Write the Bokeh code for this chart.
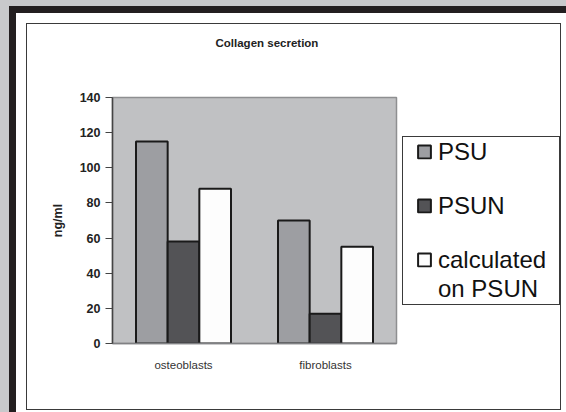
from bokeh.plotting import figure
from bokeh.models import (FactorRange, Range1d, SingleIntervalTicker, Legend, LegendItem,
                          Title, InlineStyleSheet)
from bokeh.transform import dodge
from bokeh.embed import file_html
from bokeh.resources import INLINE

# ---- data ----
categories = ["osteoblasts", "fibroblasts"]
psu = [115, 70]
psun = [58, 17]
calculated = [88, 55]
series_labels = ["PSU", "PSUN", "calculated", "on PSUN"]
series_colors = ["#9d9ea2", "#535356", "#fdfdfd"]
y_ticks_interval = 20
y_max = 140

FONT = "Liberation Sans"

p = figure(x_range=FactorRange(*categories), y_range=Range1d(0, y_max),
           frame_width=284, frame_height=246,
           output_backend="svg", toolbar_location=None,
           min_border_left=96, min_border_right=170, min_border_top=84,
           min_border_bottom=69, title="Collagen secretion")
p.margin = (13, 0, 0, 16)

p.border_fill_color = "white"
p.border_fill_alpha = 0
p.background_fill_color = "#c0c1c3"
p.outline_line_color = "#8e8f91"
p.outline_line_width = 1.5
p.grid.visible = False

# title (outermost) + spacer between title and frame
p.title.align = "left"
p.title.offset = 103
p.title.standoff = 10
p.title.text_font = FONT
p.title.text_font_size = "11.5px"
p.title.text_font_style = "bold"
p.title.text_color = "#222222"
p.add_layout(Title(text=" ", text_font_size="1px", standoff=41), "above")

# y axis
p.yaxis.ticker = SingleIntervalTicker(interval=y_ticks_interval)
p.yaxis.axis_label = "ng/ml"
p.yaxis.axis_label_text_font = FONT
p.yaxis.axis_label_text_font_size = "12.5px"
p.yaxis.axis_label_text_font_style = "bold"
p.yaxis.axis_label_text_color = "#222222"
p.yaxis.axis_label_standoff = 12
p.yaxis.major_label_text_font = FONT
p.yaxis.major_label_text_font_size = "12.5px"
p.yaxis.major_label_text_font_style = "bold"
p.yaxis.major_label_text_color = "#222222"
p.yaxis.major_label_standoff = 5
p.yaxis.major_tick_out = 7
p.yaxis.major_tick_in = 0
p.yaxis.minor_tick_line_color = None
p.yaxis.axis_line_color = "#444444"
p.yaxis.major_tick_line_color = "#444444"
p.yaxis.axis_line_width = 1.5

# x axis
p.xaxis.major_tick_line_color = None
p.xaxis.major_tick_out = 0
p.xaxis.major_label_text_font = FONT
p.xaxis.major_label_text_font_size = "11.5px"
p.xaxis.major_label_text_color = "#333333"
p.xaxis.major_label_standoff = 15
p.xaxis.axis_line_color = "#808184"
p.xaxis.axis_line_width = 1.5

# bars
bw = 0.223
src = dict(cat=categories, psu=psu, psun=psun, calc=calculated)
r1 = p.vbar(x=dodge("cat", -bw, range=p.x_range), top="psu", width=bw, source=src,
            fill_color=series_colors[0], line_color="#1a1a1a", line_width=2)
r2 = p.vbar(x=dodge("cat", 0, range=p.x_range), top="psun", width=bw, source=src,
            fill_color=series_colors[1], line_color="#1a1a1a", line_width=2)
r3 = p.vbar(x=dodge("cat", bw, range=p.x_range), top="calc", width=bw, source=src,
            fill_color=series_colors[2], line_color="#1a1a1a", line_width=2)

legend = Legend(items=[LegendItem(label=series_labels[0], renderers=[r1]),
                       LegendItem(label=" ", renderers=[]),
                       LegendItem(label=series_labels[1], renderers=[r2]),
                       LegendItem(label=" ", renderers=[]),
                       LegendItem(label=series_labels[2], renderers=[r3]),
                       LegendItem(label=series_labels[3], renderers=[])],
                location="left", padding=0, margin=20, spacing=1,
                glyph_width=16, glyph_height=16, label_standoff=6,
                label_text_font=FONT, label_text_font_size="24px",
                label_text_line_height=1.0,
                label_text_color="#111111", label_height=24,
                border_line_alpha=0, background_fill_alpha=0)
p.add_layout(legend, "right")

# page decoration: dark frame strips, chart box and legend box
p.styles = {
    "background-color": "white",
    "isolation": "isolate",
    "box-shadow": ("-7px -7px 0 0 #231f20, 0 -7px 0 0 #231f20, "
                   "-7px 0 0 0 #231f20, 0 0 0 40px #c8c9cb"),
}
p.stylesheets = [InlineStyleSheet(css="""
:host::before {
  content: ""; position: absolute; box-sizing: border-box;
  left: 386px; top: 123px; width: 158px; height: 169px;
  background: white; border: 1.2px solid #3a3a3a; z-index: -1;
}
:host::after {
  content: ""; position: absolute; box-sizing: border-box;
  left: 10px; top: 10px; width: 535px; height: 387px;
  border: 1.5px solid #3a3a3a; pointer-events: none;
}
""")]

html = file_html(p, INLINE)
open("out.html", "w").write(html)
